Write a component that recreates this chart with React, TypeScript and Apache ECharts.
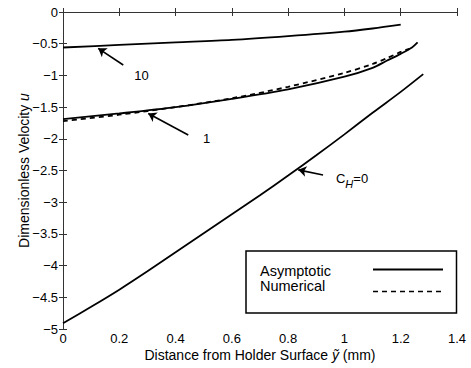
import React, { useEffect, useRef } from "react";
import * as echarts from "echarts";

// Curve C_H = 0 (asymptotic and numerical coincide)
const ch0X = [0, 0.1, 0.2, 0.3, 0.4, 0.5, 0.6, 0.7, 0.8, 0.9, 1.0, 1.1, 1.2, 1.28];
const ch0Asym = [-4.91, -4.65, -4.38, -4.09, -3.79, -3.49, -3.19, -2.89, -2.58, -2.26, -1.93, -1.59, -1.26, -0.98];

// Curve C_H = 1
const ch1X = [0, 0.2, 0.4, 0.6, 0.8, 1.0, 1.1, 1.15, 1.2, 1.24, 1.26];
const ch1Asym = [-1.69, -1.6, -1.5, -1.37, -1.22, -1.02, -0.88, -0.77, -0.66, -0.56, -0.48];
const ch1NumX = [0, 0.2, 0.4, 0.6, 0.8, 1.0, 1.1, 1.15, 1.2, 1.23];
const ch1Num = [-1.72, -1.62, -1.5, -1.36, -1.18, -0.96, -0.82, -0.73, -0.63, -0.58];

// Curve C_H = 10
const ch10X = [0, 0.2, 0.4, 0.6, 0.8, 1.0, 1.1, 1.2];
const ch10Asym = [-0.56, -0.52, -0.48, -0.44, -0.38, -0.31, -0.26, -0.2];

// Annotation arrows: [tailX, tailY, tipX, tipY]
const arrows = [
  [0.214, -0.836, 0.125, -0.573],
  [0.445, -1.94, 0.303, -1.6],
  [0.924, -2.57, 0.836, -2.49],
];
// Annotation labels (data coords)
const labelPos = [
  [0.279, -0.994],
  [0.51, -1.99],
  [0.97, -2.62],
];
const labelText = ["{c|10}", "{c|1}", "{c|C}{h|H}{c|=0}"];

// Axis ranges
const xRange = [0, 1.4, 0.2];
const yRange = [-5, 0, 0.5];

const zip = (xs: number[], ys: number[]) => xs.map((x, i) => [x, ys[i]]);
const FONT = "Liberation Sans";
const minusFmt = (v: number) => String(v).replace("-", "\u2212");

export default function App() {
  const ref = useRef<HTMLDivElement>(null);
  useEffect(() => {
    if (!ref.current) return;
    const chart = echarts.init(ref.current, undefined, { renderer: "svg" });
    const axisLine = { show: true, lineStyle: { color: "#333", width: 1 } };
    const tick = { show: true, inside: true, length: 4, lineStyle: { color: "#333" } };
    const lineSeries = (data: number[][], dashed = false) => ({
      type: "line",
      data,
      xAxisIndex: 0,
      yAxisIndex: 0,
      showSymbol: false,
      symbol: "none",
      smooth: 0.3,
      lineStyle: { color: "#000", width: 1.8, type: dashed ? [5, 4] : "solid" },
      z: dashed ? 3 : 4,
    });
    const legendGraphics = [
      {
        type: "rect",
        shape: { x: 246, y: 251, width: 210.5, height: 62 },
        style: { fill: "#fff", stroke: "#000", lineWidth: 1.5 },
        z: 100,
      },
      {
        type: "text",
        x: 260,
        y: 271,
        style: { text: "Asymptotic", fontSize: 14.5, fontFamily: FONT, fill: "#000", verticalAlign: "middle" },
        z: 101,
      },
      {
        type: "text",
        x: 260,
        y: 286,
        style: { text: "Numerical", fontSize: 14.5, fontFamily: FONT, fill: "#000", verticalAlign: "middle" },
        z: 101,
      },
      {
        type: "line",
        shape: { x1: 373, y1: 269.5, x2: 443, y2: 269.5 },
        style: { stroke: "#000", lineWidth: 1.8 },
        z: 101,
      },
      {
        type: "line",
        shape: { x1: 373, y1: 291.5, x2: 443, y2: 291.5 },
        style: { stroke: "#000", lineWidth: 1.4, lineDash: [5, 4] },
        z: 101,
      },
    ];
    chart.setOption({
      animation: false,
      textStyle: { fontFamily: FONT },
      grid: { left: 63, right: 14, top: 12, bottom: 39, outerBoundsMode: "none", containLabel: false },
      xAxis: [
        {
          type: "value",
          min: xRange[0],
          max: xRange[1],
          interval: xRange[2],
          axisLine,
          axisTick: tick,
          splitLine: { show: false },
          axisLabel: { color: "#000", fontSize: 13, fontFamily: FONT, margin: 3 },
          name: "Distance from Holder Surface {i|\u1EF9} (mm)",
          nameLocation: "middle",
          nameGap: 19,
          nameMoveOverlap: false,
          nameTextStyle: {
            color: "#000",
            fontSize: 14,
            fontFamily: FONT,
            rich: { i: { fontStyle: "italic", fontSize: 14, fontFamily: FONT, color: "#000" } },
          },
        },
        {
          type: "value",
          position: "top",
          min: xRange[0],
          max: xRange[1],
          interval: xRange[2],
          axisLine,
          axisTick: tick,
          splitLine: { show: false },
          axisLabel: { show: false },
        },
      ],
      yAxis: [
        {
          type: "value",
          min: yRange[0],
          max: yRange[1],
          interval: yRange[2],
          axisLine,
          axisTick: tick,
          splitLine: { show: false },
          axisLabel: { color: "#000", fontSize: 13, fontFamily: FONT, margin: 5, formatter: minusFmt },
          name: "Dimensionless Velocity {i|u}",
          nameLocation: "middle",
          nameGap: 32,
          nameMoveOverlap: false,
          nameTextStyle: {
            color: "#000",
            fontSize: 14,
            fontFamily: FONT,
            rich: { i: { fontStyle: "italic", fontSize: 14, fontFamily: FONT, color: "#000" } },
          },
        },
        {
          type: "value",
          position: "right",
          min: yRange[0],
          max: yRange[1],
          interval: yRange[2],
          axisLine,
          axisTick: tick,
          splitLine: { show: false },
          axisLabel: { show: false },
        },
      ],
      series: [
        {
          ...lineSeries(zip(ch0X, ch0Asym)),
          markLine: {
            silent: true,
            symbol: ["none", "arrow"],
            symbolSize: 8,
            label: { show: false },
            lineStyle: { color: "#000", width: 1.6, type: "solid" },
            data: arrows.map((a) => [{ coord: [a[0], a[1]] }, { coord: [a[2], a[3]] }]),
          },
        },
        lineSeries(zip(ch1X, ch1Asym)),
        lineSeries(zip(ch1NumX, ch1Num), true),
        lineSeries(zip(ch10X, ch10Asym)),
      ],
      graphic: legendGraphics,
    });
    // Annotation texts positioned through the chart's own scales
    const annot = labelPos.map((p, i) => {
      const px = chart.convertToPixel({ gridIndex: 0 }, p) as number[];
      return {
        type: "text",
        x: px[0],
        y: px[1],
        z: 102,
        style: {
          text: labelText[i],
          align: i === 2 ? "left" : "center",
          verticalAlign: "middle",
          fill: "#000",
          fontSize: 13,
          fontFamily: FONT,
          rich: {
            c: { fontSize: 13, fontFamily: FONT, fill: "#000" },
            h: { fontSize: 11, fontStyle: "italic", fontFamily: FONT, fill: "#000", padding: [12, 0, 0, 0] },
          },
        },
      };
    });
    chart.setOption({ graphic: [...legendGraphics, ...annot] });
    return () => chart.dispose();
  }, []);
  return (
    <div
      ref={ref}
      style={{ position: "absolute", left: 0, top: 0, width: 471, height: 368, background: "#fff" }}
    />
  );
}
